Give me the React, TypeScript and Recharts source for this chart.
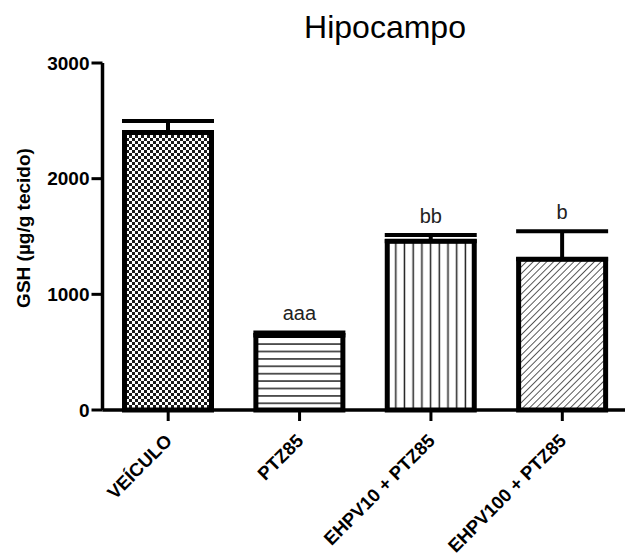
import { Bar, BarChart, Cell, ErrorBar, LabelList, XAxis, YAxis } from "recharts";

const categories = ["VEÍCULO", "PTZ85", "EHPV10 + PTZ85", "EHPV100 + PTZ85"];
const means = [2400, 645, 1458, 1303];
const sems = [98, 26, 54, 242];
const marks = ["", "aaa", "bb", "b"];
const yTicks = [0, 1000, 2000, 3000];
const patterns = ["checker", "hlines", "vlines", "diag"];

const data = categories.map((name, i) => ({
  name,
  gsh: means[i],
  err: [0, sems[i]],
  mark: marks[i],
}));

const font = "'Liberation Sans', Arial, sans-serif";

function XTick({ x, y, payload }: any) {
  const ax = x + 5;
  const ay = y + 19;
  return (
    <text
      x={ax}
      y={ay}
      transform={`rotate(-45 ${ax} ${ay})`}
      textAnchor="end"
      fontFamily={font}
      fontWeight="bold"
      fontSize={18.5}
      fill="#000"
    >
      {payload.value}
    </text>
  );
}

function MarkLabel(props: any) {
  const { x, y, width, height, value, index } = props;
  if (!value) return null;
  // px per unit taken from the bar itself
  const k = height / means[index];
  const top = y - sems[index] * k;
  return (
    <text
      x={x + width / 2}
      y={top - 12}
      textAnchor="middle"
      fontFamily={font}
      fontSize={20}
      fill="#222"
    >
      {value}
    </text>
  );
}

export default function App() {
  return (
    <div style={{ position: "absolute", left: 0, top: 0, background: "#fff" }}>
      <BarChart
        width={625}
        height={558}
        data={data}
        margin={{ top: 63, right: 0, left: 42.5, bottom: 8 }}
        barSize={87}
      >
        <defs>
          <pattern id="checker" width="6" height="6" patternUnits="userSpaceOnUse">
            <rect width="6" height="6" fill="#fff" />
            <rect width="3" height="3" fill="#1a1a1a" />
            <rect x="3" y="3" width="3" height="3" fill="#1a1a1a" />
          </pattern>
          <pattern id="hlines" width="8" height="7.4" patternUnits="userSpaceOnUse">
            <rect width="8" height="7.4" fill="#fff" />
            <line x1="0" y1="3.7" x2="8" y2="3.7" stroke="#222" strokeWidth="1.5" />
          </pattern>
          <pattern id="vlines" width="8.7" height="8" patternUnits="userSpaceOnUse">
            <rect width="8.7" height="8" fill="#fff" />
            <line x1="4.3" y1="0" x2="4.3" y2="8" stroke="#222" strokeWidth="1.5" />
          </pattern>
          <pattern
            id="diag"
            width="4.8"
            height="5"
            patternUnits="userSpaceOnUse"
            patternTransform="rotate(45)"
          >
            <rect width="4.8" height="5" fill="#fff" />
            <line x1="0" y1="0" x2="0" y2="5" stroke="#222" strokeWidth="1.5" />
          </pattern>
        </defs>
        <text x={385} y={38} textAnchor="middle" fontFamily={font} fontSize={32} fill="#000">
          Hipocampo
        </text>
        <text
          x={30}
          y={228}
          transform="rotate(-90 30 228)"
          textAnchor="middle"
          fontFamily={font}
          fontWeight="bold"
          fontSize={19}
          fill="#000"
        >
          GSH (µg/g tecido)
        </text>
        <XAxis
          dataKey="name"
          interval={0}
          height={140}
          padding={{ left: 0, right: -3 }}
          axisLine={{ stroke: "#000", strokeWidth: 3.5 }}
          tickLine={{ stroke: "#000", strokeWidth: 3 }}
          tickSize={11}
          tick={<XTick />}
        />
        <YAxis
          domain={[0, 3000]}
          ticks={yTicks}
          width={60}
          axisLine={{ stroke: "#000", strokeWidth: 3.5 }}
          tickLine={{ stroke: "#000", strokeWidth: 3 }}
          tickSize={11}
          tick={{ fontFamily: font, fontWeight: "bold", fontSize: 19, fill: "#000" }}
        />
        <Bar dataKey="gsh" stroke="#000" strokeWidth={5} isAnimationActive={false}>
          {data.map((d, i) => (
            <Cell key={d.name} fill={`url(#${patterns[i]})`} />
          ))}
          <ErrorBar dataKey="err" width={46} strokeWidth={4} stroke="#000" direction="y" />
          <LabelList dataKey="mark" content={<MarkLabel />} />
        </Bar>
      </BarChart>
    </div>
  );
}
